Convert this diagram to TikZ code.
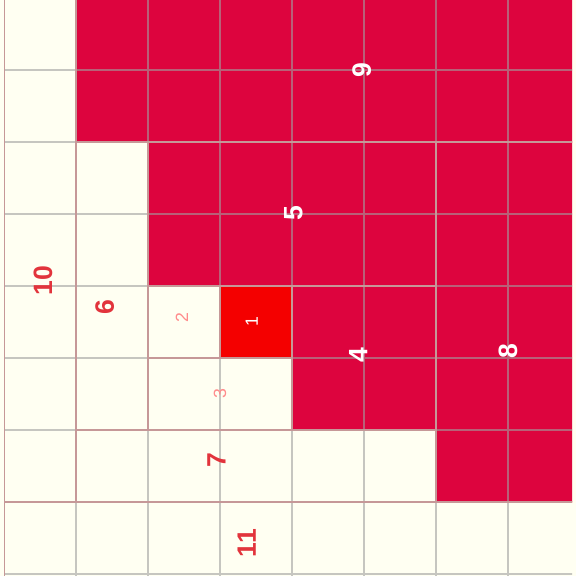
\documentclass[tikz,border=0pt]{standalone}
\usepackage{fontspec}
\setmainfont{Liberation Sans}
\usetikzlibrary{positioning}
\definecolor{crimson}{HTML}{DD043E}
\definecolor{purered}{HTML}{F40000}
\definecolor{ivory}{HTML}{FFFFF2}
\definecolor{labred}{HTML}{E2343C}
\definecolor{gridgray}{HTML}{A0A0A0}

\begin{document}
\begin{tikzpicture}[
  sqline/.style={draw=red!45,line width=0.5pt},
  gridline/.style={draw=gridgray,line width=0.6pt,opacity=0.6},
  biglab/.style={rotate=90,inner sep=0pt,font=\fontsize{10.5}{10.5}\selectfont\bfseries},
  smalllab/.style={rotate=90,inner sep=0pt,font=\fontsize{7}{7}\selectfont},
]
  \useasboundingbox (-0.0556,-0.0278) rectangle (7.944,7.972);
  \fill[ivory] (-0.0556,-0.0278) rectangle (7.944,7.972);

  \begin{scope}
    \clip (0,-0.0278) rectangle (7.889,7.972);
    % squares of the spiral
    \foreach \xa/\ya/\xb/\yb/\col in {
        1/6/8/8.2/crimson,   0/1/1/8.2/ivory,
        2/4/6/6/crimson,     6/1/8/6/crimson,
        1/2/2/6/ivory,       2/3/3/4/ivory,
        3/3/4/4/purered,     4/2/6/4/crimson,
        2/2/4/3/ivory,       1/1/6/2/ivory,
        0/-0.2/8/1/ivory}
      \filldraw[sqline,fill=\col] (\xa,\ya) rectangle (\xb,\yb);
    % unit grid on top
    \draw[gridline] (-1,-1) grid (9,9);
  \end{scope}

  % labels
  \node[biglab,text=white]  (l9)  at (4.97,7.00) {9};
  \node[biglab,text=white]  (l5)  at (4.02,5.01) {5};
  \node[biglab,text=white]  (l4)  at (4.92,3.04) {4};
  \node[biglab,text=white]  (l8)  at (7.00,3.09) {8};
  \node[biglab,text=labred] (l10) at (0.54,4.07) {10};
  \node[biglab,text=labred] (l6)  at (1.40,3.70) {6};
  \node[biglab,text=labred] (l7)  at (2.95,1.58) {7};
  \node[biglab,text=labred] (l11) at (3.37,0.43) {11};
  \node[smalllab,text=red!45]  (l2) at (2.47,3.56) {2};
  \node[smalllab,text=red!45]  (l3) at (3.00,2.50) {3};
  \node[smalllab,text=white]   (l1) at (3.44,3.50) {1};
\end{tikzpicture}
\end{document}
